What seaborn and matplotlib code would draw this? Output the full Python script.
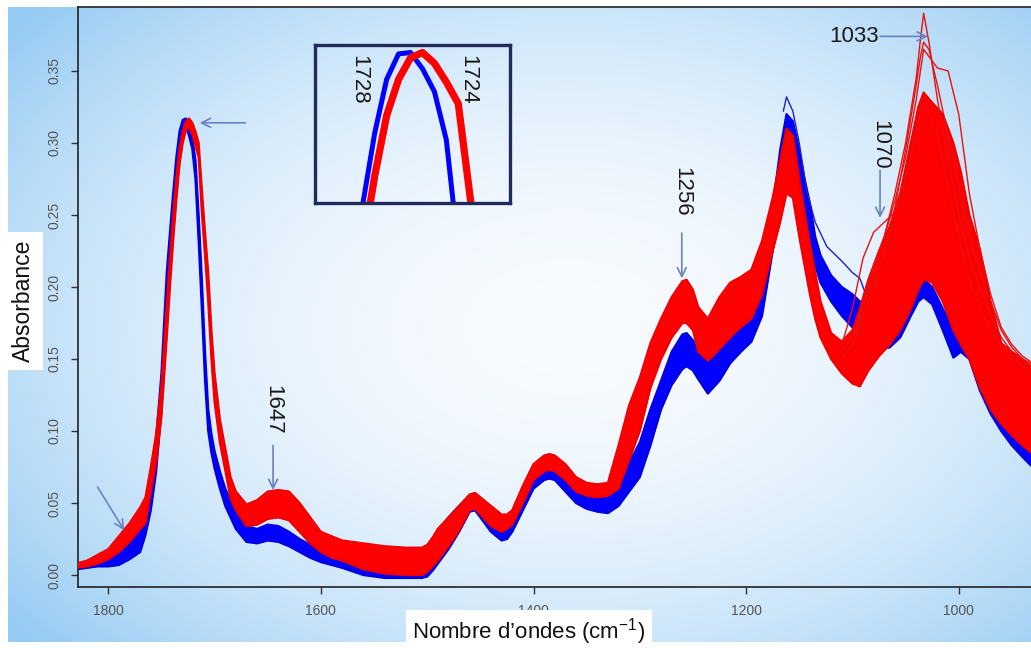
import numpy as np
import matplotlib
matplotlib.use("Agg")
import matplotlib.pyplot as plt
import seaborn as sns

# ---------------- data ----------------
wn = [1830, 1820, 1810, 1800, 1790, 1780, 1770, 1765, 1760, 1755, 1750, 1745, 1742, 1739, 1736, 1733,
      1730, 1727, 1724, 1721, 1718, 1715, 1712, 1709, 1706, 1703, 1700, 1695, 1690, 1685, 1680, 1670,
      1660, 1650, 1640, 1630, 1620, 1610, 1600, 1590, 1580, 1560, 1540, 1520, 1505, 1500, 1495, 1490,
      1480, 1470, 1460, 1455, 1450, 1440, 1430, 1425, 1420, 1410, 1400, 1390, 1385, 1380, 1370, 1360,
      1350, 1340, 1330, 1320, 1310, 1300, 1290, 1280, 1270, 1260, 1256, 1250, 1245, 1236, 1225, 1215,
      1205, 1195, 1185, 1175, 1168, 1162, 1156, 1150, 1145, 1140, 1135, 1130, 1120, 1110, 1100, 1093,
      1085, 1075, 1065, 1055, 1045, 1038, 1033, 1025, 1015, 1005, 998, 990, 980, 970, 960, 950, 940, 932]

blue_lo = [.004, .005, .006, .006, .007, .011, .016, .028, .045, .072, .115, .185, .220, .250, .278, .300,
           .311, .311, .305, .296, .275, .232, .185, .135, .100, .085, .074, .060, .048, .040, .032, .023,
           .022, .024, .023, .020, .016, .012, .009, .007, .005, .000, -.002, -.002, -.002, -.001, .003, .008,
           .018, .030, .044, .045, .040, .030, .024, .025, .030, .045, .060, .066, .067, .066, .058, .050,
           .046, .044, .043, .048, .058, .068, .090, .115, .132, .143, .145, .142, .136, .126, .135, .147,
           .155, .162, .180, .225, .270, .300, .295, .270, .255, .235, .215, .203, .190, .180, .172, .166,
           .160, .157, .158, .165, .180, .190, .193, .188, .170, .151, .155, .150, .128, .112, .100, .090, .082, .076]
blue_hi = [.007, .008, .009, .011, .016, .022, .036, .048, .065, .095, .140, .210, .238, .265, .290, .308,
           .316, .317, .311, .303, .288, .250, .205, .155, .115, .098, .086, .072, .060, .052, .045, .034,
           .032, .035, .034, .030, .025, .021, .017, .014, .012, .014, .012, .011, .012, .016, .024, .030,
           .040, .048, .055, .056, .052, .045, .037, .036, .040, .058, .072, .077, .078, .077, .070, .062,
           .058, .056, .056, .062, .078, .092, .115, .135, .155, .167, .168, .163, .157, .147, .155, .170,
           .180, .195, .215, .255, .295, .320, .315, .295, .275, .258, .235, .222, .208, .200, .195, .190,
           .182, .174, .173, .180, .195, .202, .205, .200, .185, .170, .172, .167, .145, .130, .118, .105, .097, .094]
red_lo = [.005, .006, .008, .011, .016, .023, .032, .036, .058, .078, .110, .165, .200, .232, .260, .285,
          .300, .309, .311, .306, .298, .290, .252, .222, .190, .150, .120, .092, .073, .053, .045, .034,
          .035, .039, .040, .038, .030, .022, .016, .012, .010, .004, .001, .000, .000, .002, .006, .010,
          .020, .031, .045, .046, .042, .034, .030, .032, .035, .050, .066, .072, .073, .072, .066, .058,
          .055, .054, .055, .060, .080, .100, .130, .150, .165, .175, .175, .170, .155, .149, .157, .165,
          .172, .178, .195, .225, .245, .265, .262, .235, .215, .195, .178, .165, .150, .140, .133, .131,
          .142, .152, .160, .170, .185, .198, .205, .203, .190, .170, .160, .150, .130, .115, .105, .097, .090, .085]
red_hi = [.008, .010, .014, .018, .027, .036, .047, .054, .075, .098, .132, .188, .220, .250, .276, .296,
          .308, .315, .317, .314, .308, .300, .268, .238, .210, .170, .140, .108, .088, .068, .058, .049,
          .052, .058, .059, .058, .050, .040, .030, .027, .024, .022, .020, .019, .019, .021, .026, .032,
          .040, .048, .056, .057, .054, .048, .042, .042, .045, .062, .077, .083, .084, .083, .077, .068,
          .064, .063, .064, .090, .118, .137, .161, .178, .193, .204, .205, .198, .186, .178, .193, .203,
          .207, .212, .232, .262, .288, .310, .305, .275, .252, .230, .210, .190, .168, .162, .170, .185,
          .205, .225, .242, .265, .300, .325, .335, .328, .320, .300, .280, .250, .226, .190, .161, .155, .150, .145]

# individual spectra standing out around the 1033 / 1070 bands
peak_wn = [1110, 1100, 1090, 1080, 1070, 1060, 1050, 1040, 1036, 1033, 1028, 1020, 1010, 1000, 990, 980,
           970, 960, 950, 940, 932]
red_line_a = [.150, .160, .185, .210, .235, .265, .300, .345, .372, .390, .370, .330, .290, .250, .220, .200,
              .180, .165, .155, .150, .147]
red_line_b = [.155, .165, .190, .215, .235, .260, .290, .330, .350, .365, .360, .352, .350, .320, .265, .226,
              .195, .172, .160, .152, .148]
red_line_c = [.160, .185, .220, .238, .245, .252, .275, .310, .320, .325, .320, .305, .270, .235, .205, .185,
              .170, .160, .150, .145, .140]
red_line_d = [.150, .160, .180, .200, .225, .255, .295, .340, .360, .370, .365, .340, .305, .270, .235, .210,
              .190, .170, .158, .150, .145]
blue_out_wn = [1165, 1162, 1156, 1150, 1143, 1135, 1124, 1110, 1100, 1093, 1085]
blue_out = [.322, .332, .322, .300, .267, .245, .228, .218, .210, .206, .190]

xticks = [1800, 1600, 1400, 1200, 1000]
yticks = [0.00, 0.05, 0.10, 0.15, 0.20, 0.25, 0.30, 0.35]

# ---------------- style ----------------
sns.set_theme(style="white")
plt.rcParams["font.family"] = ["Liberation Sans", "DejaVu Sans"]
plt.rcParams["mathtext.fontset"] = "custom"
plt.rcParams["mathtext.rm"] = "Liberation Sans"

W, H = 1031, 648
fig = plt.figure(figsize=(W / 100, H / 100), dpi=100)
fig.patch.set_facecolor("white")

# background gradient panel (decoration)
bg = fig.add_axes([0, 0, 1, 1], zorder=0)
bg.set_xlim(0, W)
bg.set_ylim(H, 0)
bg.axis("off")
gh, gw = 635, 1023
yy, xx = np.mgrid[0:gh, 0:gw]
d = np.sqrt(((xx - 560) / 720.0) ** 2 + ((yy - 320) / 470.0) ** 2)
t = np.clip(d, 0, 1) ** 2.0
center = np.array([248, 251, 255]) / 255.0
edge = np.array([150, 203, 243]) / 255.0
img = center * (1 - t[..., None]) + edge * t[..., None]
bg.imshow(img, extent=(8, W, 642, 7), aspect="auto", interpolation="bilinear")

# main axes
L, B, T = 78, 587, 7
ax = fig.add_axes([L / W, (H - B) / H, (W - L) / W, (B - T) / H], zorder=1)
ax.set_facecolor("none")

blue = "#0000ff"
red = "#ff0000"
ax.fill_between(wn, blue_lo, blue_hi, color=blue, lw=0, zorder=2)
sns.lineplot(x=wn, y=blue_lo, color="#0000e0", lw=1.6, sort=False, estimator=None, ax=ax, zorder=2)
sns.lineplot(x=wn, y=blue_hi, color="#0000e0", lw=1.6, sort=False, estimator=None, ax=ax, zorder=2)
sns.lineplot(x=blue_out_wn, y=blue_out, color="#2020c0", lw=1.0, sort=False, estimator=None, ax=ax, zorder=2)

ax.fill_between(wn, red_lo, red_hi, color=red, lw=0, zorder=3)
sns.lineplot(x=wn, y=red_lo, color="#f00000", lw=1.6, sort=False, estimator=None, ax=ax, zorder=3)
sns.lineplot(x=wn, y=red_hi, color="#f00000", lw=1.6, sort=False, estimator=None, ax=ax, zorder=3)
for line in (red_line_a, red_line_b, red_line_c, red_line_d):
    sns.lineplot(x=peak_wn, y=line, color="#e81010", lw=1.0, sort=False, estimator=None, ax=ax, zorder=3)

ax.set_xlim(1828.5, 932)
ax.set_ylim(-0.0083, 0.3944)
ax.set_xticks(xticks)
ax.set_xticklabels([str(v) for v in xticks])
ax.set_yticks(yticks)
ax.set_yticklabels([f"{v:.2f}" for v in yticks], rotation=90, va="center")
ax.tick_params(axis="both", which="major", direction="out", length=5, width=1, color="#333333",
               labelsize=10, labelcolor="#555555", pad=7, left=True, bottom=True)
for s in ("left", "bottom", "top"):
    ax.spines[s].set_color("#222222")
    ax.spines[s].set_linewidth(1.2)
ax.spines["right"].set_visible(False)

ax.set_xlabel("Nombre d\u2019ondes (cm$^{\\mathregular{-1}}$)", fontsize=16, color="#111111",
              bbox=dict(facecolor="white", edgecolor="none", pad=5))
ax.xaxis.label.set_va("center")
ax.xaxis.label.set_ha("center")
ax.xaxis.set_label_coords((529 - L) / (W - L), (B - 632) / (B - T))
ax.set_ylabel("Absorbance", fontsize=16.5, color="#111111",
              bbox=dict(facecolor="white", edgecolor="none", pad=6))
ax.yaxis.label.set_va("center")
ax.yaxis.label.set_ha("center")
ax.yaxis.set_label_coords((23 - L) / (W - L), (B - 301) / (B - T))

# annotations
ac = "#6a82c2"
ap = dict(arrowstyle="->", color=ac, lw=1.2, mutation_scale=16, shrinkA=0, shrinkB=0)
ax.annotate("", xy=(1714, 0.314), xytext=(1671, 0.314), arrowprops=ap, zorder=5)
ax.annotate("", xy=(1785, 0.031), xytext=(1810, 0.061), arrowprops=ap, zorder=5)
ax.text(1645, 0.115, "1647", rotation=-90, ha="center", va="center", fontsize=16, color="#1a1a1a", zorder=5)
ax.annotate("", xy=(1645, 0.059), xytext=(1645, 0.090), arrowprops=ap, zorder=5)
ax.text(1260.5, 0.266, "1256", rotation=-90, ha="center", va="center", fontsize=16, color="#1a1a1a", zorder=5)
ax.annotate("", xy=(1260.5, 0.206), xytext=(1260.5, 0.2375), arrowprops=ap, zorder=5)
ax.text(1074, 0.299, "1070", rotation=-90, ha="center", va="center", fontsize=16, color="#1a1a1a", zorder=5)
ax.annotate("", xy=(1074, 0.248), xytext=(1074, 0.281), arrowprops=ap, zorder=5)
ax.text(1098.5, 0.374, "1033", ha="center", va="center", fontsize=16, color="#1a1a1a", zorder=5)
ax.annotate("", xy=(1029, 0.374), xytext=(1074, 0.374), arrowprops=ap, zorder=5)

# inset zoom of the carbonyl band
ins = fig.add_axes([315 / W, (H - 203) / H, 195 / W, 158 / H], zorder=4)
ins.set_facecolor("none")
blue_mid = (np.array(blue_lo) + np.array(blue_hi)) / 2
red_mid = (np.array(red_lo) + np.array(red_hi)) / 2
sns.lineplot(x=wn, y=blue_mid, color=blue, lw=3.6, sort=False, estimator=None, ax=ins)
sns.lineplot(x=wn, y=red_mid, color=red, lw=5.2, sort=False, estimator=None, ax=ins)
ins.set_xlim(1751, 1702)
ins.set_ylim(0.258, 0.3168)
ins.set_xticks([])
ins.set_yticks([])
ins.set_xlabel("")
ins.set_ylabel("")
for s in ins.spines.values():
    s.set_color("#1f2b5c")
    s.set_linewidth(2.4)
    s.set_visible(True)
fig.text(359 / W, 1 - 80 / H, "1728", rotation=-90, ha="center", va="center", fontsize=16, color="#1a1a1a", zorder=6)
fig.text(468 / W, 1 - 80 / H, "1724", rotation=-90, ha="center", va="center", fontsize=16, color="#1a1a1a", zorder=6)

fig.savefig("out.png", dpi=100)
